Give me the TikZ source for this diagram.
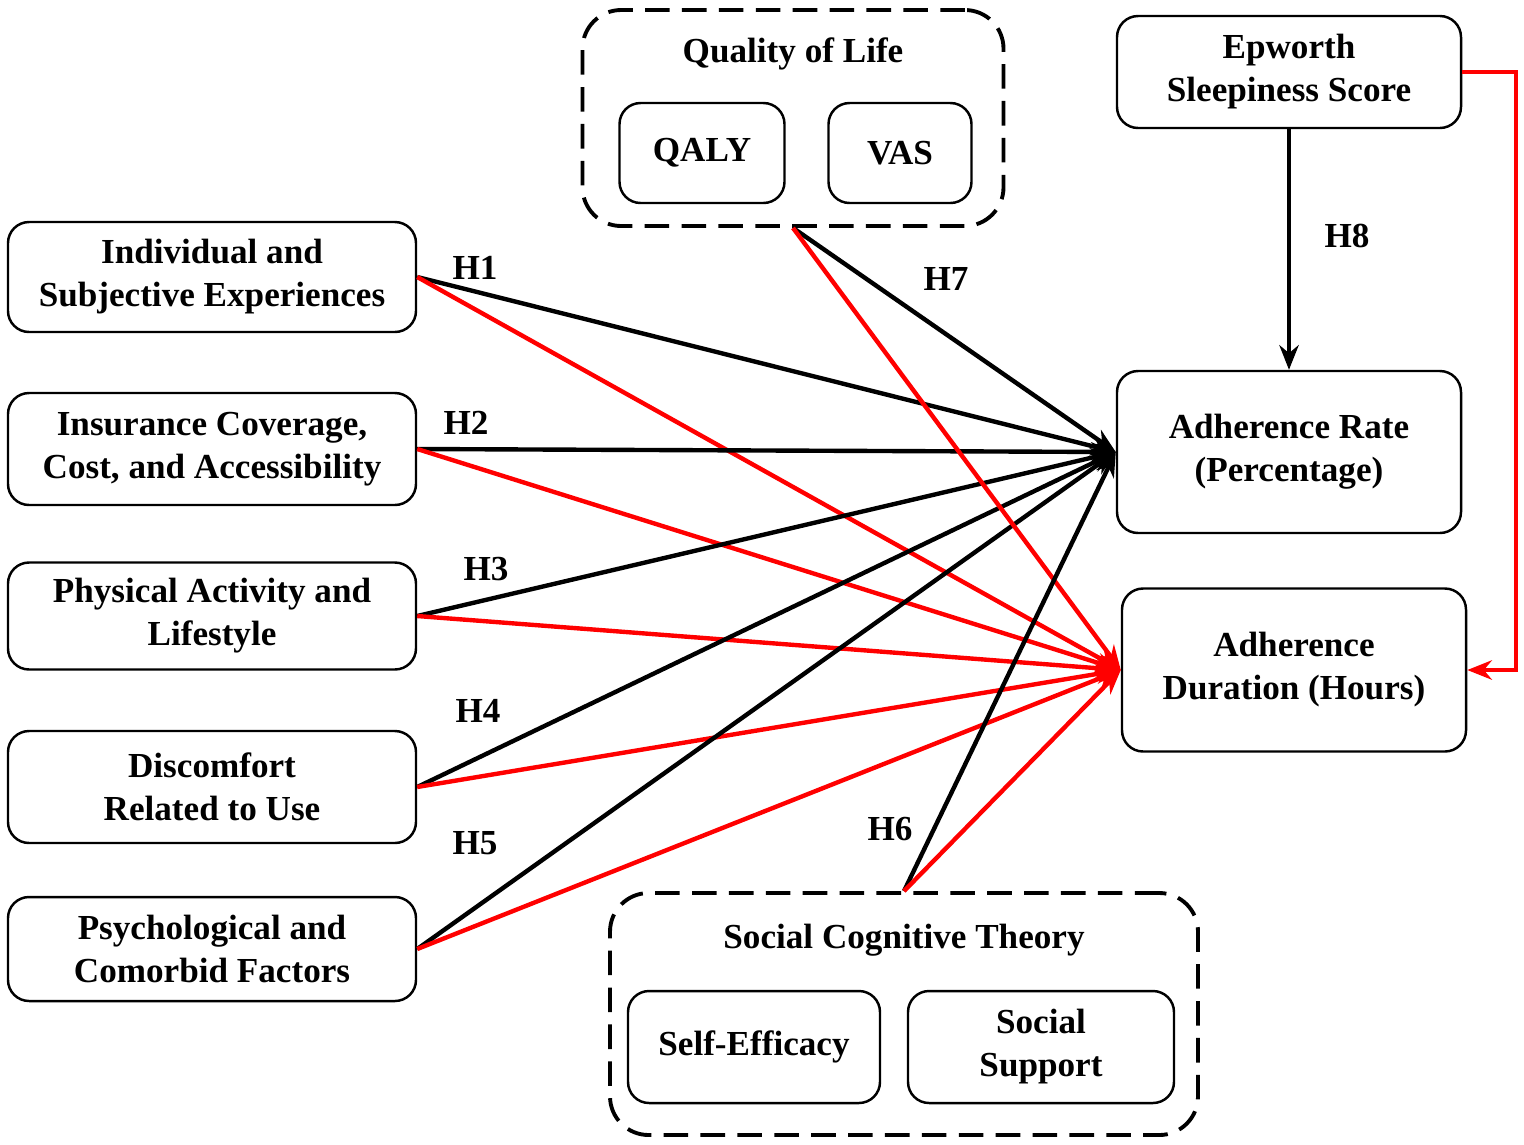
\documentclass[tikz,border=0pt]{standalone}
\usepackage{fontspec}
\setmainfont{Liberation Serif}
\usetikzlibrary{arrows.meta,positioning}
\tikzset{main node/.style={rectangle,rounded corners=12pt,draw,line width=1.4pt,align=center,inner sep=0pt,font=\bfseries\fontsize{20}{24.5}\selectfont},
         group box/.style={rectangle,rounded corners=22pt,draw,dashed,dash pattern=on 14pt off 7pt,line width=2.2pt,inner sep=0pt},
         edge label/.style={rectangle,draw=none,fill=none,font=\bfseries\fontsize{20}{24}\selectfont},
         black arrow/.style={line width=2.5pt,-{Stealth[length=14pt,width=11pt]}},
         red arrow/.style={line width=2.5pt,red,-{Stealth[length=14pt,width=11pt]}}
}
\begin{document}
\begin{tikzpicture}[x=0.02cm,y=-0.02cm]
\useasboundingbox (0,0) rectangle (1524,1144);

% left factors
\node [main node, minimum width=408*0.02cm, minimum height=110*0.02cm] (ind) at (212,277) {Individual and\\Subjective Experiences};
\node [main node, minimum width=408*0.02cm, minimum height=112*0.02cm] (ins) at (212,449) {Insurance Coverage,\\Cost, and Accessibility};
\node [main node, minimum width=408*0.02cm, minimum height=107*0.02cm] (phy) at (212,616) {Physical Activity and\\Lifestyle};
\node [main node, minimum width=408*0.02cm, minimum height=112*0.02cm] (dis) at (212,787) {Discomfort\\Related to Use};
\node [main node, minimum width=408*0.02cm, minimum height=104*0.02cm] (psy) at (212,949) {Psychological and\\Comorbid Factors};

% quality of life
\node [group box, minimum width=421*0.02cm, minimum height=216*0.02cm] (qol) at (793,118) {};
\node [edge label] at (793,54) {Quality of Life};
\node [main node, minimum width=165*0.02cm, minimum height=100*0.02cm] (qaly) at (702,153) {QALY};
\node [main node, minimum width=143*0.02cm, minimum height=100*0.02cm] (vas) at (900,153) {VAS};

% social cognitive theory
\node [group box, minimum width=588*0.02cm, minimum height=242*0.02cm] (sct) at (904,1014) {};
\node [edge label] at (904,940) {Social Cognitive Theory};
\node [main node, minimum width=252*0.02cm, minimum height=112*0.02cm] (self) at (754,1047) {Self-Efficacy};
\node [main node, minimum width=266*0.02cm, minimum height=112*0.02cm] (soc) at (1041,1047) {Social\\Support};

% outcomes
\node [main node, minimum width=344*0.02cm, minimum height=112*0.02cm] (ess) at (1289,72) {Epworth\\Sleepiness Score};
\node [main node, minimum width=344*0.02cm, minimum height=162*0.02cm] (rate) at (1289,452) {Adherence Rate\\(Percentage)};
\node [main node, minimum width=344*0.02cm, minimum height=163*0.02cm] (dur) at (1294,670) {Adherence\\Duration (Hours)};

% paths
\foreach \src in {ind,ins,phy,dis,psy}{
    \draw [black arrow] (\src.east) -- (rate.west);
    \draw [red arrow] (\src.east) -- (dur.west);
}
\draw [black arrow] (qol.south) -- (rate.west);
\draw [red arrow] (qol.south) -- (dur.west);
\draw [black arrow] (sct.north) -- (rate.west);
\draw [red arrow] (sct.north) -- (dur.west);
\draw [black arrow] (ess.south) -- (rate.north);
\draw [red arrow] (ess.east) -- ++(54,0) |- (dur.east);

\node [edge label] at (475,268) {H1};
\node [edge label] at (466,423) {H2};
\node [edge label] at (486,569) {H3};
\node [edge label] at (478,711) {H4};
\node [edge label] at (475,843) {H5};
\node [edge label] at (890,829) {H6};
\node [edge label] at (946,279) {H7};
\node [edge label] at (1347,236) {H8};
\end{tikzpicture}
\end{document}
